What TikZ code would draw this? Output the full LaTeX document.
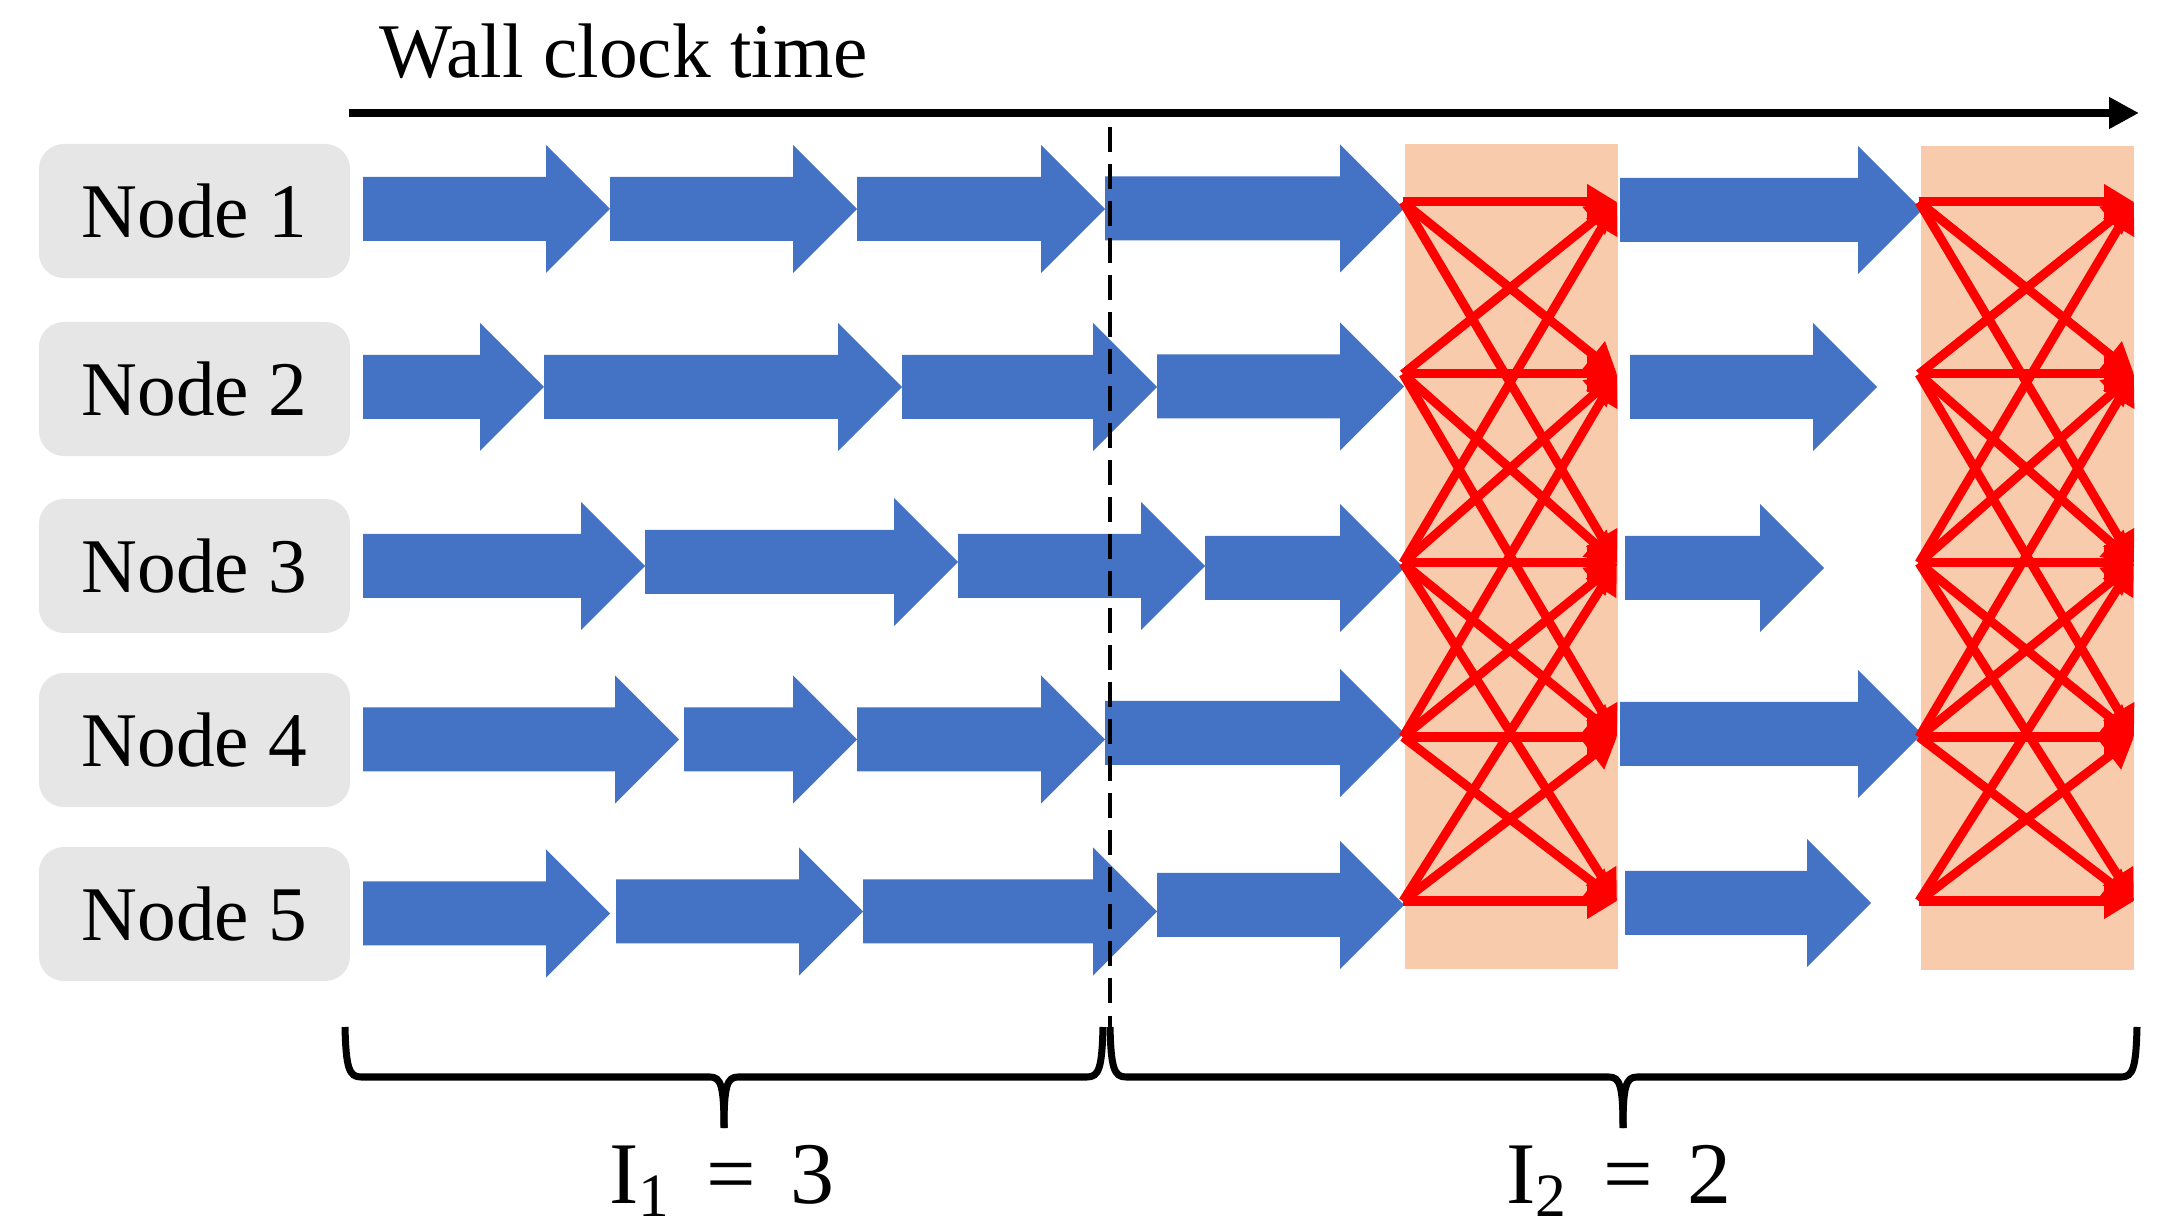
\documentclass[tikz,border=0pt]{standalone}
\usepackage{fontspec}
\setmainfont{Liberation Serif}
\usepackage{xcolor}
\usepackage{tikz}
\usetikzlibrary{arrows.meta, calc}
\definecolor{stepblue}{RGB}{68, 114, 196}
\definecolor{syncorange}{RGB}{248, 203, 173}
\definecolor{labelgray}{RGB}{231, 230, 230}
\definecolor{syncred}{RGB}{255, 0, 0}

\newcommand{\localstep}[3]{%
  \fill[stepblue] (#1,{#3-32}) -- ({#2-64},{#3-32}) -- ({#2-64},{#3-64}) -- (#2,#3)
    -- ({#2-64},{#3+64}) -- ({#2-64},{#3+32}) -- (#1,{#3+32}) -- cycle;}

\newcommand{\timebrace}[3]{%
  \draw[bracepen] (#1,1027) .. controls ({#1+1},1068) and ({#1+4},1077) .. ({#1+16},1077)
    -- ({#2-14},1077) .. controls ({#2-3},1077) and (#2,1086) .. (#2,1128);
  \draw[bracepen] (#2,1128) .. controls (#2,1086) and ({#2+3},1077) .. ({#2+14},1077)
    -- ({#3-16},1077) .. controls ({#3-4},1077) and ({#3-1},1068) .. (#3,1027);}

\tikzset{
  labelbox/.style={fill=labelgray, rounded corners=0.25cm, minimum width=3.11cm,
    minimum height=1.34cm, inner sep=0pt, font=\fontsize{22}{26}\selectfont},
  syncbox/.style={fill=syncorange},
  syncarrow/.style={draw=syncred, line width=0.09cm, -{Triangle[length=0.3cm, width=0.34cm]}},
  splitline/.style={line width=0.045cm, dash pattern=on 0.25cm off 0.12cm},
  bracepen/.style={line width=0.07cm},
  interval/.style={anchor=base, inner sep=0pt, font=\fontsize{25}{30}\selectfont}
}

\begin{document}
\begin{tikzpicture}[x=0.01cm, y=-0.01cm]
    \useasboundingbox (0,0) rectangle (2157,1228);

    \coordinate (t0) at (349,113);
    \coordinate (t1) at (2139,113);
    \draw[line width=0.08cm, -{Triangle[length=0.3cm, width=0.3cm]}] (t0) -- (t1);
    \node[anchor=base west, inner sep=0pt, font=\fontsize{22}{26}\selectfont] (clock) at (379,78) {Wall clock time};

    \foreach \i/\yy in {1/211, 2/389, 3/566, 4/740, 5/914}
        \node[labelbox] (node\i) at (194.5,\yy) {Node \i};

    \fill[syncbox] (1405,144) rectangle (1618,969);
    \fill[syncbox] (1921,146) rectangle (2134,970);

    \foreach \xs/\xt/\yc in {363/610/209, 610/857/209, 857/1105/209, 1105/1404/208.5, 1620/1922/210,
                             363/544/387, 544/902/387, 902/1157/387, 1157/1404/386.5, 1630/1877/387,
                             363/645/566, 645/958/562, 958/1205/566, 1205/1404/568, 1625/1824/568,
                             363/679/739.5, 684/857/739.5, 857/1105/739.5, 1105/1404/733, 1620/1922/734,
                             363/610/913.5, 616/863/911.5, 863/1157/911.5, 1157/1404/905, 1625/1871/903}
        {\localstep{\xs}{\xt}{\yc}}

    \foreach \i/\yy in {1/202, 2/374, 3/563, 4/737, 5/901}{
        \coordinate (aL\i) at (1403,\yy);
        \coordinate (aR\i) at (1617,\yy);
        \coordinate (bL\i) at (1919,\yy);
        \coordinate (bR\i) at (2134,\yy);
    }
    \foreach \i in {1,...,5}{
        \foreach \j in {1,...,5}{
            \pgfmathtruncatemacro{\hops}{abs(\i-\j)}
            \ifnum\hops<3
                \draw[syncarrow] (aL\i) -- (aR\j);
                \draw[syncarrow] (bL\i) -- (bR\j);
            \fi
        }
    }

    \coordinate (cut0) at (1110,127);
    \coordinate (cut1) at (1110,1030);
    \draw[splitline] (cut0) -- (cut1);

    \timebrace{345}{724}{1103}
    \timebrace{1110}{1623}{2137}
    \node[interval] (gap1) at (722,1203) {I\textsubscript{1}\hspace{0.4em}=\hspace{0.4em}3};
    \node[interval] (gap2) at (1619,1203) {I\textsubscript{2}\hspace{0.4em}=\hspace{0.4em}2};
\end{tikzpicture}
\end{document}
